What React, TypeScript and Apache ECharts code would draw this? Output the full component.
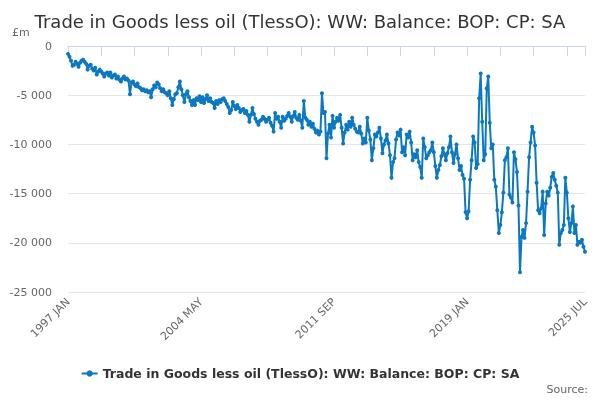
import { useEffect, useRef } from "react";
import * as echarts from "echarts";

const MONTHS = ["JAN", "FEB", "MAR", "APR", "MAY", "JUN", "JUL", "AUG", "SEP", "OCT", "NOV", "DEC"];
const START_YEAR = 1997;

// £m, monthly
const BAL_1997_2000 = [
  -800, -1100, -1500, -2000, -1900, -1600, -1800, -2100, -1700, -1500, -1400, -1600,
  -1800, -2400, -2000, -1900, -2300, -2500, -2200, -2900, -2600, -2400, -2600, -2800,
  -3100, -2800, -2700, -3000, -2700, -3200, -3000, -2900, -3300, -3100, -3400, -3600,
  -3300, -3100, -3400, -3300, -3500, -4900, -3700, -3600, -3900, -4100, -3800, -4200,
];
const BAL_2001_2004 = [
  -4300, -4500, -4400, -4600, -4500, -4700, -4600, -5200, -4400, -4000, -4200, -3700,
  -3900, -4300, -4600, -4400, -4700, -4800, -5000, -4600, -5300, -6000, -5400, -4900,
  -4800, -4200, -3600, -4400, -5000, -5700, -4900, -4600, -5200, -5600, -6000, -5500,
  -6000, -5300, -5500, -5100, -5700, -5200, -5800, -5400, -5000, -5600, -5300, -5700,
];
const BAL_2005_2008 = [
  -5800, -6300, -5600, -5900, -5500, -5700, -5400, -5300, -5600, -5900, -6200, -6800,
  -6500, -5700, -6100, -6400, -6000, -6300, -6700, -6500, -6400, -6800, -6600, -7000,
  -7700, -7000, -6300, -6900, -7400, -7700, -8000, -7600, -7500, -7200, -7400, -7700,
  -7500, -7300, -7800, -8100, -8700, -6800, -7400, -7200, -7700, -8300, -7200, -7600,
];
const BAL_2009_2012 = [
  -7400, -7100, -6800, -7200, -7700, -7100, -6700, -7300, -7500, -7000, -7600, -8300,
  -5600, -7300, -7500, -8000, -7700, -8200, -7900, -8400, -8800, -8600, -9000, -8700,
  -4800, -6800, -6700, -11400, -8900, -8000, -9300, -7100, -8300, -7700, -7300, -7600,
  -7000, -8300, -9900, -8800, -8000, -8500, -7700, -8200, -7300, -8000, -8400, -8700,
];
const BAL_2013_2016 = [
  -8800, -8200, -8900, -9900, -9400, -9800, -7300, -8600, -9500, -11600, -10400, -9000,
  -9200, -8800, -8300, -9400, -10900, -10000, -9600, -9000, -9900, -11100, -13400, -11800,
  -11400, -9500, -8800, -9100, -8500, -10800, -10300, -11100, -9000, -9300, -8700, -9800,
  -11600, -11000, -11300, -10600, -11800, -12300, -13400, -9400, -10300, -11400, -11100, -10800,
];
const BAL_2017_2020 = [
  -10600, -9800, -10800, -12200, -13400, -12600, -12100, -11200, -10400, -11000, -11600, -10900,
  -10300, -9200, -10800, -11900, -11000, -10000, -11400, -12600, -12200, -13100, -13500, -16900,
  -17500, -16800, -13600, -11600, -9200, -9800, -12400, -12000, -5300, -2800, -7700, -11600,
  -11000, -4300, -3100, -7800, -10400, -10000, -13600, -14300, -16700, -19000, -18200, -16900,
];
const BAL_2021_2025 = [
  -14900, -11600, -11300, -10400, -15100, -15400, -15900, -10800, -11500, -12800, -16200, -23000,
  -19400, -18700, -19500, -18000, -14800, -11300, -9800, -8200, -8800, -10100, -13900, -16700,
  -17000, -16500, -14800, -19200, -16000, -14800, -15200, -14400, -13300, -12900, -13600, -14200,
  -14900, -20200, -19000, -18700, -18200, -13400, -14900, -17500, -18900, -18000, -16300, -19000,
  -18200, -20200, -19900, -20000, -19700, -20400, -20900,
];

const BALANCE = [
  ...BAL_1997_2000,
  ...BAL_2001_2004,
  ...BAL_2005_2008,
  ...BAL_2009_2012,
  ...BAL_2013_2016,
  ...BAL_2017_2020,
  ...BAL_2021_2025,
];

const CATEGORIES = BALANCE.map(
  (_, i) => `${START_YEAR + Math.floor(i / 12)} ${MONTHS[i % 12]}`
);

const SERIES_NAME = "Trade in Goods less oil (TlessO): WW: Balance: BOP: CP: SA";
const LINE_COLOR = "#0b79c1";
const FONT = "'DejaVu Sans', sans-serif";

const fmt = (v: number) =>
  String(v).replace(/\B(?=(\d{3})+(?!\d))/g, " ");

export default function App() {
  const chartRef = useRef<HTMLDivElement>(null);

  useEffect(() => {
    if (!chartRef.current) return;
    const chart = echarts.init(chartRef.current, undefined, { renderer: "svg" });
    const last = CATEGORIES.length - 1;

    chart.setOption({
      animation: false,
      textStyle: { fontFamily: FONT },
      title: {
        text: SERIES_NAME,
        left: "center",
        top: 7,
        textStyle: { fontSize: 18, fontWeight: "normal", color: "#333", fontFamily: FONT },
      },
      grid: { left: 68, right: 15, top: 46, bottom: 108 },
      legend: {
        data: [SERIES_NAME],
        left: "center",
        top: 362,
        itemWidth: 16,
        itemHeight: 8,
        itemGap: 6,
        textStyle: { fontSize: 12.5, fontWeight: "bold", color: "#333", fontFamily: FONT },
      },
      xAxis: {
        type: "category",
        data: CATEGORIES,
        boundaryGap: false,
        axisLine: { lineStyle: { color: "#ccd6eb" } },
        axisTick: {
          length: 10,
          interval: (i: number) => i % 22 === 0 || i === last,
          lineStyle: { color: "#ccd6eb" },
        },
        axisLabel: {
          rotate: 45,
          fontSize: 11,
          color: "#666",
          margin: 8,
          fontFamily: FONT,
          interval: (i: number) => i % 88 === 0 || i === last,
        },
      },
      yAxis: {
        type: "value",
        min: -25000,
        max: 0,
        interval: 5000,
        axisLine: { show: false },
        axisTick: { show: false },
        axisLabel: { fontSize: 11, color: "#666", margin: 16, fontFamily: FONT, formatter: fmt },
        splitLine: { lineStyle: { color: "#e6e6e6" } },
      },
      graphic: [
        { type: "text", left: 12, top: 27, style: { text: "£m", fontSize: 11, fill: "#666", fontFamily: FONT } },
        { type: "text", right: 12, top: 384, style: { text: "Source:", fontSize: 11, fill: "#666", fontFamily: FONT } },
      ],
      series: [
        {
          name: SERIES_NAME,
          type: "line",
          data: BALANCE,
          color: LINE_COLOR,
          symbol: "circle",
          symbolSize: 4,
          showAllSymbol: true,
          lineStyle: { width: 2, color: LINE_COLOR },
          itemStyle: { color: LINE_COLOR },
        },
      ],
    });

    return () => chart.dispose();
  }, []);

  return (
    <div
      ref={chartRef}
      style={{ position: "fixed", left: 0, top: 0, width: 600, height: 400 }}
    />
  );
}
